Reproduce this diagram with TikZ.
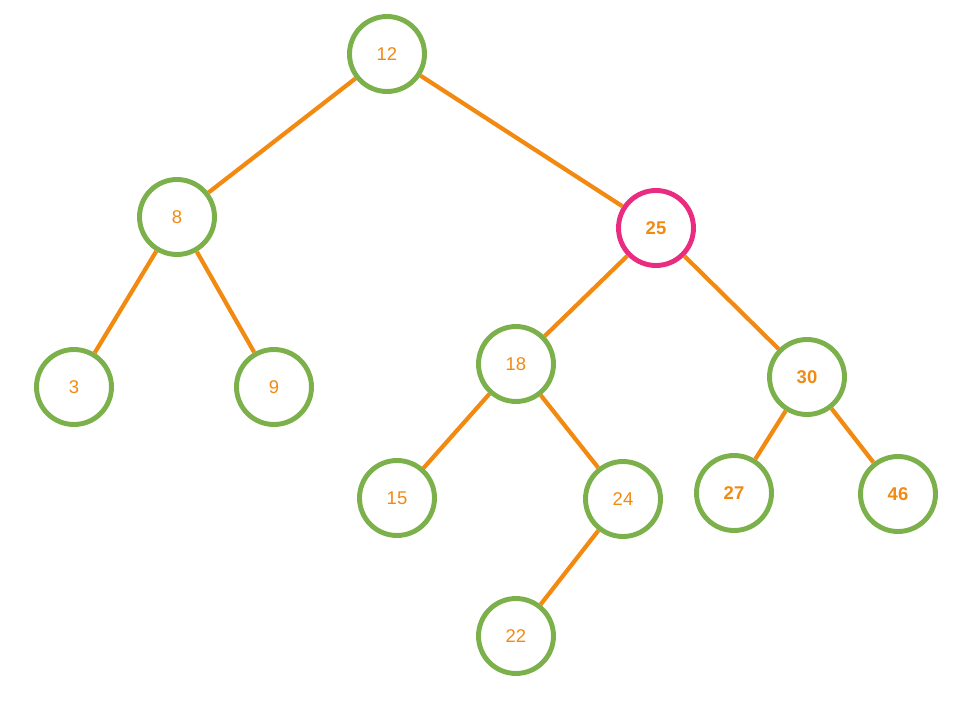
\documentclass[tikz,border=0pt]{standalone}
\usepackage{fontspec}
\setmainfont{Liberation Sans}
\usepackage{xcolor}
\usetikzlibrary{positioning}

\definecolor{leafgreen}{HTML}{7BB04B}
\definecolor{edgeorange}{HTML}{F28A12}
\definecolor{hotpink}{HTML}{EA2C80}

\begin{document}
\begin{tikzpicture}[
  x=0.02cm, y=-0.02cm,
  font=\fontsize{10.5}{12}\selectfont,
  key/.style={circle, draw=leafgreen, line width=2.8pt, fill=white,
              minimum size=1.5cm, inner sep=0pt, text=edgeorange},
  hot/.style={key, draw=hotpink, font=\fontsize{10.5}{12}\selectfont\bfseries},
  bold/.style={key, font=\fontsize{10.5}{12}\selectfont\bfseries},
  link/.style={draw=edgeorange, line width=2.4pt}]
  \useasboundingbox (0,0) rectangle (968,703);
  % levels
  \node[key] (n12) at (387,54) {12};
  \node[key] (n8) at (177,217) {8};
  \node[hot] (n25) at (656,228) {25};
  \node[key] (n3) at (74,387) {3};
  \node[key] (n9) at (274,387) {9};
  \node[key] (n18) at (516,364) {18};
  \node[bold] (n30) at (807,377) {30};
  \node[key] (n15) at (397,498) {15};
  \node[key] (n24) at (623,499) {24};
  \node[bold] (n27) at (734,493) {27};
  \node[bold] (n46) at (898,494) {46};
  \node[key] (n22) at (516,636) {22};
  % edges
  \draw[link] (n12) -- (n8);
  \draw[link] (n12) -- (n25);
  \draw[link] (n8) -- (n3);
  \draw[link] (n8) -- (n9);
  \draw[link] (n25) -- (n18);
  \draw[link] (n25) -- (n30);
  \draw[link] (n18) -- (n15);
  \draw[link] (n18) -- (n24);
  \draw[link] (n30) -- (n27);
  \draw[link] (n30) -- (n46);
  \draw[link] (n24) -- (n22);
\end{tikzpicture}
\end{document}
